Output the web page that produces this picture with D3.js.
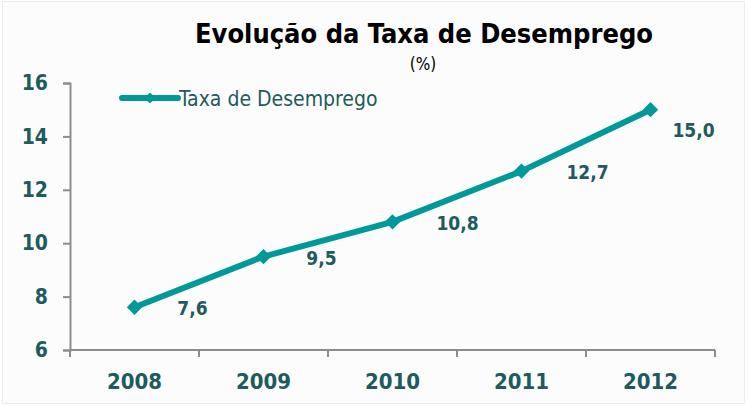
<!DOCTYPE html>
<html>
<head>
<meta charset="utf-8">
<title>Evolução da Taxa de Desemprego</title>
<style>
  body { margin: 0; background: #fff; }
  svg { display: block; }
</style>
</head>
<body>
<script src="https://cdnjs.cloudflare.com/ajax/libs/d3/7.9.0/d3.min.js"></script>
<script>
  // data
  const years = ["2008", "2009", "2010", "2011", "2012"];
  const rates = [7.6, 9.5, 10.8, 12.7, 15.0];
  const yTicks = [6, 8, 10, 12, 14, 16];
  const seriesName = "Taxa de Desemprego";

  const width = 748, height = 407;
  const margin = {top: 83, right: 33, bottom: 57, left: 70};
  const lineColor = "#00999a";
  const textColor = "#1e5b5d";
  const axisColor = "#8c8c8c";
  const font = "'DejaVu Sans Condensed', 'DejaVu Sans', sans-serif";

  // label offsets from each point (dx, dy to baseline)
  const labelOffsets = [[58, 8], [58, 8], [65, 8], [66, 8], [43, 27]];

  const svg = d3.select("body").append("svg")
      .attr("width", width)
      .attr("height", height)
      .style("font-family", font);

  svg.append("rect")
      .attr("x", 2.5).attr("y", 1.5)
      .attr("width", width - 6).attr("height", height - 5)
      .attr("fill", "#fcfcfc")
      .attr("stroke", "#ececec");

  const x = d3.scaleBand()
      .domain(years)
      .range([margin.left, width - margin.right]);

  const y = d3.scaleLinear()
      .domain([6, 16])
      .range([height - margin.bottom, margin.top]);

  // title
  svg.append("text")
      .attr("x", 424).attr("y", 43)
      .attr("text-anchor", "middle")
      .attr("font-weight", "bold")
      .attr("font-size", 27)
      .attr("fill", "#000")
      .text("Evolução da Taxa de Desemprego");

  svg.append("text")
      .attr("x", 423).attr("y", 70)
      .attr("text-anchor", "middle")
      .attr("font-size", 17)
      .attr("fill", "#000")
      .text("(%)");

  // axes
  const xAxis = svg.append("g")
      .attr("transform", `translate(0,${height - margin.bottom})`)
      .call(d3.axisBottom(x).tickSize(0).tickPadding(23));
  xAxis.select(".domain").remove();
  xAxis.selectAll("text")
      .attr("font-size", 22).attr("font-weight", "bold")
      .attr("fill", textColor).style("font-family", font);

  // band boundary ticks on x axis
  const bounds = years.map(d => x(d)).concat([x.range()[1]]);
  svg.append("g").selectAll("line")
      .data(bounds)
      .join("line")
      .attr("x1", d => d).attr("x2", d => d)
      .attr("y1", height - margin.bottom).attr("y2", height - margin.bottom + 7)
      .attr("stroke", axisColor).attr("stroke-width", 2);

  svg.append("line")
      .attr("x1", margin.left).attr("x2", width - margin.right)
      .attr("y1", height - margin.bottom).attr("y2", height - margin.bottom)
      .attr("stroke", axisColor).attr("stroke-width", 2);

  const yAxis = svg.append("g")
      .attr("transform", `translate(${margin.left},0)`)
      .call(d3.axisLeft(y).tickValues(yTicks).tickSize(7).tickPadding(15));
  yAxis.select(".domain").attr("stroke", axisColor).attr("stroke-width", 2);
  yAxis.selectAll(".tick line").attr("stroke", axisColor).attr("stroke-width", 2);
  yAxis.selectAll("text")
      .attr("font-size", 21).attr("font-weight", "bold")
      .attr("fill", textColor).style("font-family", font);

  // line
  const pts = years.map((d, i) => ({year: d, value: rates[i]}));
  const cx = d => x(d.year) + x.bandwidth() / 2;

  svg.append("path")
      .datum(pts)
      .attr("fill", "none")
      .attr("stroke", lineColor)
      .attr("stroke-width", 6)
      .attr("stroke-linejoin", "round")
      .attr("d", d3.line().x(cx).y(d => y(d.value)));

  const diamond = d3.symbol().type(d3.symbolDiamond2).size(150);
  svg.append("g").selectAll("path")
      .data(pts)
      .join("path")
      .attr("transform", d => `translate(${cx(d)},${y(d.value)})`)
      .attr("d", diamond)
      .attr("fill", lineColor);

  // value labels
  svg.append("g").selectAll("text")
      .data(pts)
      .join("text")
      .attr("x", (d, i) => cx(d) + labelOffsets[i][0])
      .attr("y", (d, i) => y(d.value) + labelOffsets[i][1])
      .attr("text-anchor", "middle")
      .attr("font-size", 19)
      .attr("font-weight", "bold")
      .attr("fill", textColor)
      .text(d => d3.format(".1f")(d.value).replace(".", ","));

  // legend
  const lg = svg.append("g").attr("transform", "translate(122,98)");
  lg.append("line")
      .attr("x1", 0).attr("x2", 56)
      .attr("stroke", lineColor).attr("stroke-width", 6)
      .attr("stroke-linecap", "round");
  lg.append("path")
      .attr("transform", "translate(28,0)")
      .attr("d", d3.symbol().type(d3.symbolDiamond2).size(80))
      .attr("fill", lineColor);
  lg.append("text")
      .attr("x", 57).attr("y", 8)
      .attr("font-size", 21)
      .attr("fill", textColor)
      .text(seriesName);
</script>
</body>
</html>
